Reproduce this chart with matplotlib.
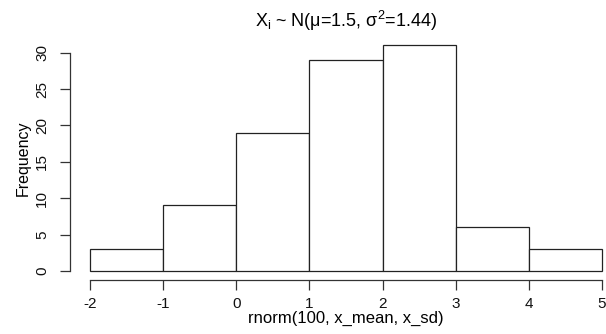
import numpy as np
import matplotlib
matplotlib.use('Agg')
import matplotlib.pyplot as plt

plt.rcParams['font.family'] = ['Liberation Sans', 'DejaVu Sans']
plt.rcParams['mathtext.fontset'] = 'custom'
plt.rcParams['mathtext.rm'] = 'Liberation Sans'
plt.rcParams['mathtext.it'] = 'Liberation Sans'
plt.rcParams['axes.unicode_minus'] = False

# histogram of rnorm(100, 1.5, 1.2)
bin_edges = [-2, -1, 0, 1, 2, 3, 4, 5]
counts = [3, 9, 19, 29, 31, 6, 3]
x_ticks = [-2, -1, 0, 1, 2, 3, 4, 5]
y_ticks = [0, 5, 10, 15, 20, 25, 30]

fig = plt.figure(figsize=(6.06, 3.34), dpi=100)
ax = fig.add_axes([70 / 606, 1 - 280 / 334, 552 / 606, (280 - 36.4) / 334])

lefts = np.array(bin_edges[:-1])
widths = np.diff(bin_edges)
ax.bar(lefts, counts, width=widths, align='edge', facecolor='white',
       edgecolor='#222222', linewidth=0.9)

# R-like 4% padding
rng = bin_edges[-1] - bin_edges[0]
ax.set_xlim(bin_edges[0] - 0.04 * rng, bin_edges[-1] + 0.04 * rng)
ax.set_ylim(-0.04 * max(counts), max(counts) * 1.04)

for s in ['top', 'right']:
    ax.spines[s].set_visible(False)
ax.spines['left'].set_bounds(y_ticks[0], y_ticks[-1])
ax.spines['bottom'].set_bounds(x_ticks[0], x_ticks[-1])
for s in ['left', 'bottom']:
    ax.spines[s].set_linewidth(0.9)
    ax.spines[s].set_color('#333333')

ax.set_xticks(x_ticks)
ax.set_yticks(y_ticks)
ax.tick_params(direction='out', length=7, width=0.9, color='#333333',
               labelsize=11, labelcolor='#111111')
ax.tick_params(axis='x', pad=5)
ax.tick_params(axis='y', pad=8)
plt.setp(ax.get_yticklabels(), rotation=90, va='center')

ax.set_xlabel('rnorm(100, x_mean, x_sd)', fontsize=12, labelpad=0)
ax.set_ylabel('Frequency', fontsize=11.5, labelpad=3)
ax.set_title(r'X$_\mathregular{i}$ ~ N(μ=1.5, σ$^\mathregular{2}$=1.44)',
             fontsize=13, pad=7)

fig.savefig('out.png', dpi=100)
